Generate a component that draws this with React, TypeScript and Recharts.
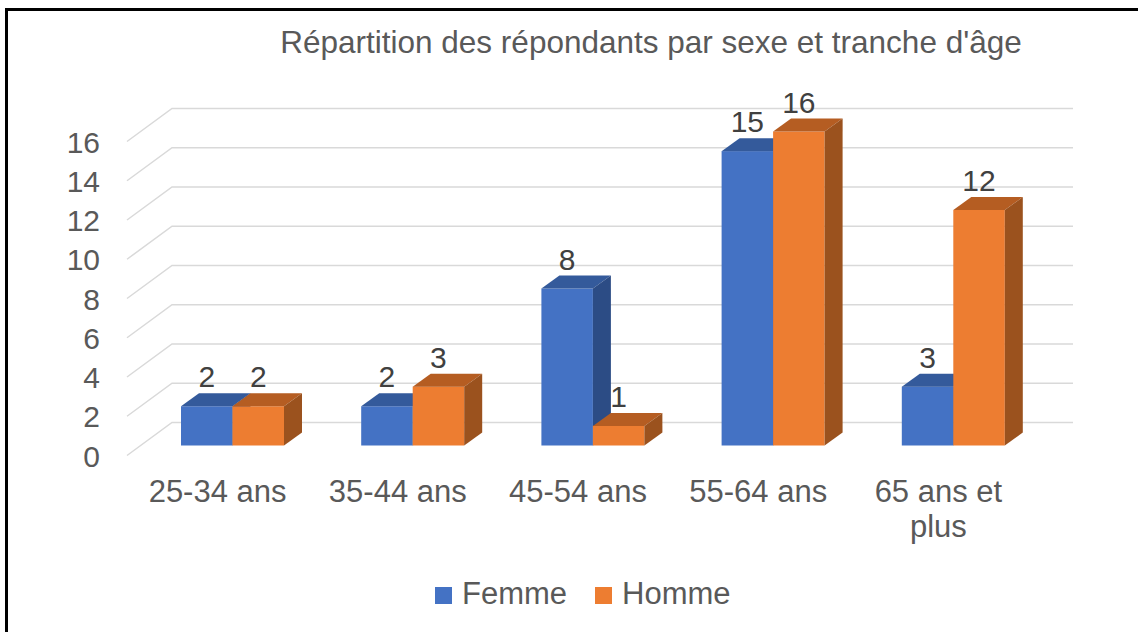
import React from "react"
import {
  BarChart,
  Bar,
  XAxis,
  YAxis,
  CartesianGrid,
  Legend,
  LabelList,
} from "recharts"

const categories = ["25-34 ans", "35-44 ans", "45-54 ans", "55-64 ans", "65 ans et plus"]
const femme = [2, 2, 8, 15, 3]
const homme = [2, 3, 1, 16, 12]
const yTicks = [0, 2, 4, 6, 8, 10, 12, 14, 16]

const title = "Répartition des répondants par sexe et tranche d'âge"

const data = categories.map((category, i) => ({
  category,
  Femme: femme[i],
  Homme: homme[i],
}))

const FONT = "'Liberation Sans', Arial, sans-serif"
const TEXT = "#595959"
const LABEL = "#404040"
const GRID = "#D9D9D9"

// fake 3D: depth of the bars and of the floor / back wall
const BAR_DX = 18
const BAR_DY = -13
const FLOOR_FRONT_DX = -15
const FLOOR_FRONT_DY = 10
const WALL_DX = 30
const WALL_DY = -23

const series = [
  { key: "Femme", front: "#4472C4", top: "#345A9B", side: "#2C4C85" },
  { key: "Homme", front: "#ED7D31", top: "#B55D22", side: "#9B521E" },
]

function Bar3D(props: any) {
  const { x, y, width, height, front, top, side } = props
  if (!height) return null
  return (
    <g>
      <rect x={x} y={y} width={width} height={height} fill={front} />
      <path
        d={`M${x},${y} L${x + BAR_DX},${y + BAR_DY} L${x + width + BAR_DX},${y + BAR_DY} L${x + width},${y} Z`}
        fill={top}
      />
      <path
        d={`M${x + width},${y} L${x + width + BAR_DX},${y + BAR_DY} L${x + width + BAR_DX},${y + height + BAR_DY} L${x + width},${y + height} Z`}
        fill={side}
      />
    </g>
  )
}

function gridLine(p: any) {
  const { x1, x2, y1, index } = p
  const d = `M${x1 + FLOOR_FRONT_DX},${y1 + FLOOR_FRONT_DY} L${x1 + WALL_DX},${y1 + WALL_DY} L${x2 + WALL_DX},${y1 + WALL_DY}`
  return <path key={`grid-${index}`} d={d} stroke={GRID} strokeWidth={1.5} fill="none" />
}

function YTick(p: any) {
  return (
    <text x={100} y={p.y + 21} textAnchor="end" fontSize={30} fill={TEXT} fontFamily={FONT}>
      {p.payload.value}
    </text>
  )
}

function wrap(label: string, maxChars = 10) {
  const lines: string[] = []
  let cur = ""
  for (const w of label.split(" ")) {
    const next = cur ? cur + " " + w : w
    if (next.length > maxChars && cur) {
      lines.push(cur)
      cur = w
    } else {
      cur = next
    }
  }
  if (cur) lines.push(cur)
  return lines
}

function XTick(p: any) {
  const lines = wrap(String(p.payload.value))
  return (
    <text textAnchor="middle" fontSize={31} fill={TEXT} fontFamily={FONT}>
      {lines.map((l, i) => (
        <tspan key={i} x={p.x - 14.5} y={502 + i * 35}>
          {l}
        </tspan>
      ))}
    </text>
  )
}

function valueLabel(p: any) {
  const x = Number(p.x) + Number(p.width) / 2
  const y = Number(p.y) - 19
  return (
    <text x={x} y={y} textAnchor="middle" fontSize={30} fill={LABEL} fontFamily={FONT}>
      {p.value}
    </text>
  )
}

function LegendContent() {
  return (
    <svg width={360} height={50} style={{ overflow: "visible", display: "block" }}>
      <rect x={0} y={9} width={17} height={17} fill={series[0].front} />
      <text x={27} y={26} fontSize={31} fill={TEXT} fontFamily={FONT}>
        Femme
      </text>
      <rect x={160} y={9} width={17} height={17} fill={series[1].front} />
      <text x={187} y={26} fontSize={31} fill={TEXT} fontFamily={FONT}>
        Homme
      </text>
    </svg>
  )
}

export default function App() {
  return (
    <div
      style={{
        position: "absolute",
        left: 0,
        top: 0,
        width: 1138,
        height: 632,
        background: "#fff",
        overflow: "hidden",
      }}
    >
      <div
        style={{
          position: "absolute",
          left: 5,
          top: 8,
          right: -10,
          bottom: -10,
          borderLeft: "3px solid #000",
          borderTop: "3px solid #000",
        }}
      />
      <div style={{ position: "absolute", left: 0, top: 0 }}>
        <BarChart
          width={1138}
          height={632}
          data={data}
          margin={{ top: 131.5, right: 95, left: 100, bottom: 126.5 }}
          barGap={0}
          barSize={51.5}
        >
          <CartesianGrid vertical={false} horizontal={gridLine} />
          <XAxis
            dataKey="category"
            axisLine={false}
            tickLine={false}
            height={60}
            tick={<XTick />}
            interval={0}
          />
          <YAxis
            width={42}
            domain={[0, 16]}
            ticks={yTicks}
            axisLine={false}
            tickLine={false}
            tick={<YTick />}
          />
          <Legend
            verticalAlign="middle"
            content={<LegendContent />}
            wrapperStyle={{ left: 435, top: 578, width: 360, height: 50 }}
          />
          {series.map((s) => (
            <Bar
              key={s.key}
              dataKey={s.key}
              fill={s.front}
              isAnimationActive={false}
              shape={(p: any) => <Bar3D {...p} front={s.front} top={s.top} side={s.side} />}
            >
              <LabelList dataKey={s.key} content={valueLabel} />
            </Bar>
          ))}
        </BarChart>
      </div>
      <svg
        width={1138}
        height={70}
        style={{ position: "absolute", left: 0, top: 0, pointerEvents: "none" }}
      >
        <text x={651} y={53} textAnchor="middle" fontSize={31.5} fill={TEXT} fontFamily={FONT}>
          {title}
        </text>
      </svg>
    </div>
  )
}
